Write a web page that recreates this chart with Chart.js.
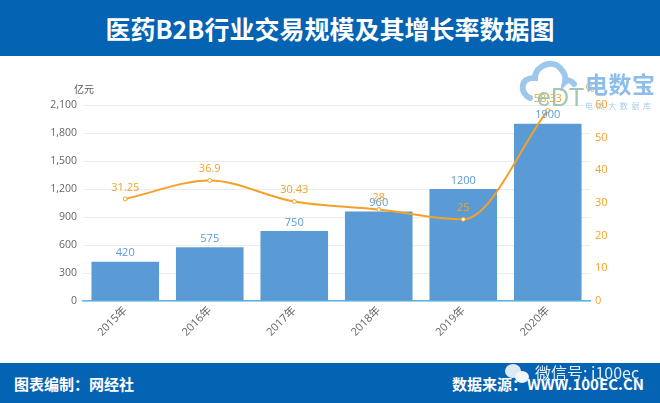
<!DOCTYPE html>
<html>
<head>
<meta charset="utf-8">
<script src="https://cdn.jsdelivr.net/npm/chart.js@4"></script>
<style>
  html, body { margin: 0; padding: 0; background: #fff; overflow: hidden; }
  body { width: 660px; height: 403px; position: relative; font-family: "Noto Sans CJK SC", sans-serif; }
  .band { position: absolute; left: 0; width: 660px; background: #0563b3; color: #fff; font-weight: 700; }
  #top { top: 0; height: 56px; line-height: 56px; text-align: center; font-size: 25px; }
  #bottom { top: 363px; height: 40px; line-height: 42px; font-size: 15px; }
  #bottom span { position: absolute; white-space: nowrap; }
  #wrap { position: absolute; left: 0; top: 0; width: 660px; height: 403px; }
  #logo, #mark { position: absolute; left: 0; top: 0; pointer-events: none; }
</style>
</head>
<body>
<div class="band" id="top">医药B2B行业交易规模及其增长率数据图</div>
<div class="band" id="bottom">
  <span style="left:14px">图表编制：网经社</span>
  <span style="left:452px">数据来源：WWW.100EC.CN</span>
</div>
<div id="wrap"><canvas id="chart" width="660" height="403"></canvas></div>
<svg id="logo" width="660" height="403">
  <path d="M530 98 C519 93 520 77 535 78 C535 66 553 58 561 69 C565 73 566 77 565 82 C568 79 572 81 574 84"
        fill="none" stroke="#8dbdea" stroke-width="6" stroke-linecap="round" opacity="0.85"/>
  <text x="537" y="106" font-family="Liberation Sans" font-size="25" fill="#8fbfa8" opacity="0.85">eDT</text>
  <text x="585" y="93" font-family="Noto Sans CJK SC" font-size="23" font-weight="700" letter-spacing="0.5" fill="#8dbdea">电数宝</text>
  <text x="585" y="109" font-family="Noto Sans CJK SC" font-size="8" letter-spacing="3.6" fill="#a9cdee">电商大数据库</text>
</svg>
<svg id="mark" width="660" height="403">
  <ellipse cx="513" cy="371" rx="8" ry="7" fill="#dfe9f2"/>
  <ellipse cx="522" cy="377" rx="7" ry="6" fill="#f2f6fa"/>
  <text x="535" y="379" font-family="Noto Sans CJK SC" font-size="16" fill="#e6edf4">微信号: i100ec</text>
</svg>

<script>
// 数据
const categories = ['2015年', '2016年', '2017年', '2018年', '2019年', '2020年'];
const tradeScale = [420, 575, 750, 960, 1200, 1900];
const growthRate = [31.25, 36.9, 30.43, 28, 25, 58.33];
const growthLabels = ['31.25', '36.9', '30.43', '28', '25', '58.33'];
const leftTicks = [0, 300, 600, 900, 1200, 1500, 1800, 2100];
const rightTicks = [0, 10, 20, 30, 40, 50, 60];

const blue = '#5b9bd5';
const orange = '#f5a128';

// 数值标签和单位
const labelPlugin = {
    id: 'valueLabels',
    afterDatasetsDraw(chart) {
        const ctx = chart.ctx;
        ctx.save();
        ctx.textAlign = 'center';
        ctx.textBaseline = 'bottom';
        ctx.font = '11px "Open Sans", sans-serif';

        ctx.fillStyle = blue;
        chart.getDatasetMeta(1).data.forEach((bar, i) => {
            ctx.fillText(String(tradeScale[i]), bar.x, bar.y - 3);
        });

        ctx.fillStyle = orange;
        chart.getDatasetMeta(0).data.forEach((pt, i) => {
            ctx.fillText(growthLabels[i], pt.x, pt.y - 6);
        });

        ctx.fillStyle = '#595959';
        ctx.font = '10px "Noto Sans CJK SC", sans-serif';
        ctx.fillText('亿元', chart.scales.y.right + 1, chart.scales.y.top - 11);
        ctx.fillStyle = orange;
        ctx.font = '11px "Open Sans", sans-serif';
        ctx.fillText('%', chart.scales.rate.left, chart.scales.rate.top - 11);
        ctx.restore();
    }
};

new Chart(document.getElementById('chart').getContext('2d'), {
    type: 'bar',
    data: {
        labels: categories,
        datasets: [{
            type: 'line',
            data: growthRate,
            yAxisID: 'rate',
            borderColor: orange,
            borderWidth: 2,
            cubicInterpolationMode: 'monotone',
            pointRadius: 2,
            pointBorderWidth: 1,
            pointBackgroundColor: '#fff',
            pointBorderColor: orange,
            order: 0
        }, {
            type: 'bar',
            data: tradeScale,
            yAxisID: 'y',
            backgroundColor: blue,
            barPercentage: 0.8,
            categoryPercentage: 1,
            order: 1
        }]
    },
    options: {
        responsive: false,
        animation: false,
        layout: { padding: { top: 105, bottom: 0, left: 0, right: 0 } },
        plugins: { legend: { display: false }, tooltip: { enabled: false } },
        scales: {
            x: {
                grid: { display: false, drawTicks: false },
                border: { color: '#5cb3e8', width: 1.5 },
                afterFit(scale) { scale.height = 102; },
                ticks: {
                    maxRotation: 45,
                    minRotation: 45,
                    padding: 3,
                    color: '#666666',
                    font: { size: 11, family: '"Open Sans", "Noto Sans CJK SC", sans-serif' }
                }
            },
            y: {
                position: 'left',
                min: 0,
                max: 2100,
                afterFit(scale) { scale.width = 83; },
                afterBuildTicks(scale) { scale.ticks = leftTicks.map(v => ({ value: v })); },
                grid: { color: '#ececec', drawTicks: false },
                border: { display: false },
                ticks: {
                    padding: 6,
                    color: '#666666',
                    font: { size: 10.5, family: '"Open Sans", sans-serif' },
                    callback: v => v.toLocaleString('en-US')
                }
            },
            rate: {
                position: 'right',
                min: 0,
                max: 60,
                afterFit(scale) { scale.width = 70; },
                afterBuildTicks(scale) { scale.ticks = rightTicks.map(v => ({ value: v })); },
                grid: { display: false, drawTicks: false },
                border: { display: false },
                ticks: {
                    padding: 5,
                    color: orange,
                    font: { size: 11, family: '"Open Sans", sans-serif' }
                }
            }
        }
    },
    plugins: [labelPlugin]
});
</script>
</body>
</html>
